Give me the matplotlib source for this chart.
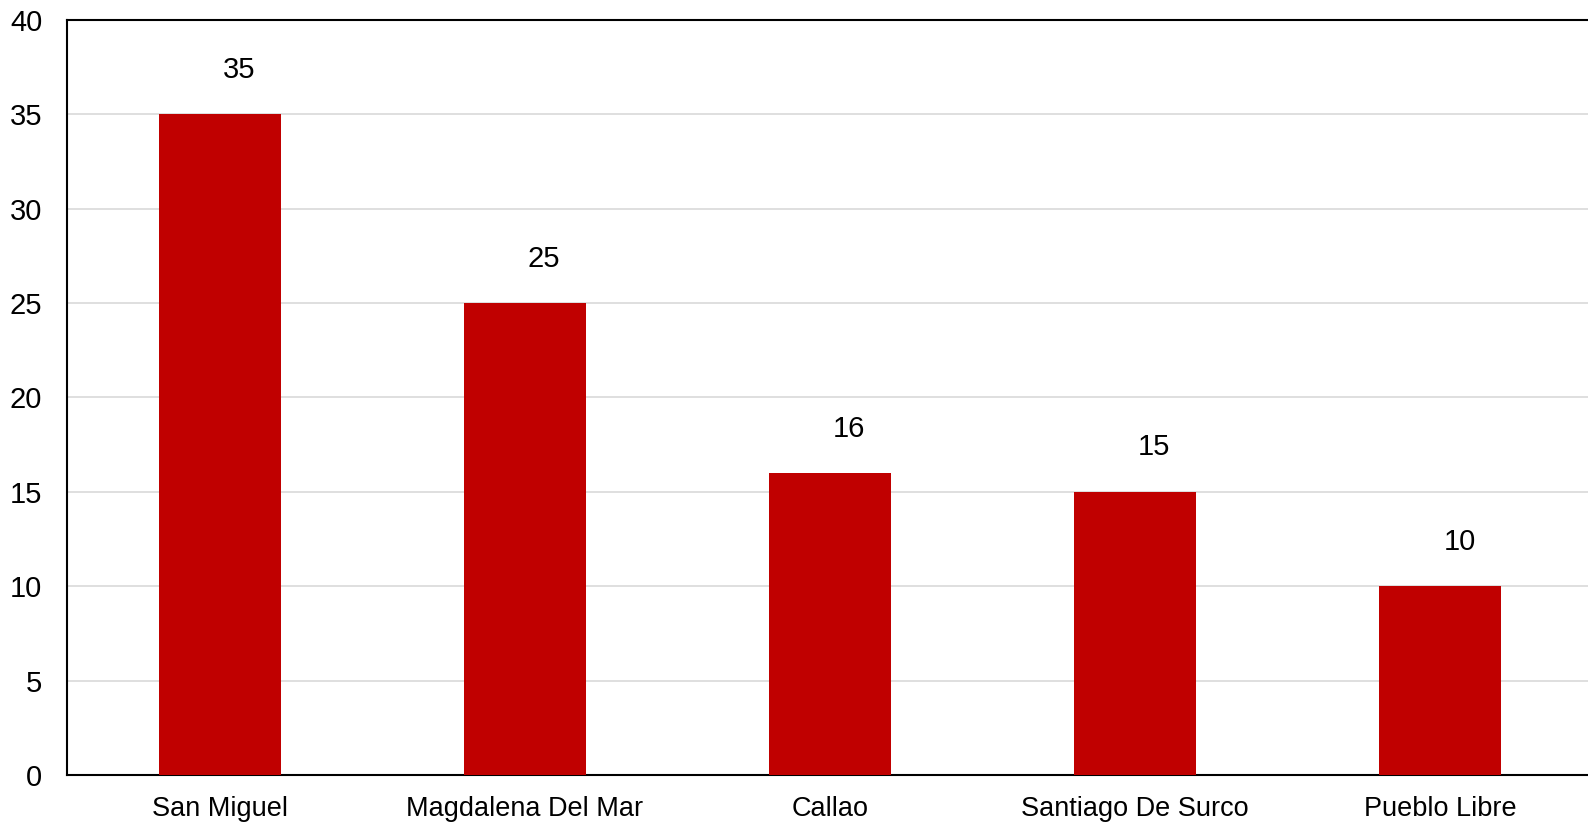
import numpy as np
import matplotlib
matplotlib.use('Agg')
import matplotlib.pyplot as plt

plt.rcParams['font.family'] = ['Liberation Sans', 'DejaVu Sans']

districts = ['San Miguel', 'Magdalena Del Mar', 'Callao', 'Santiago De Surco', 'Pueblo Libre']
counts = [35, 25, 16, 15, 10]
yticks = [0, 5, 10, 15, 20, 25, 30, 35, 40]

fig = plt.figure(figsize=(15.88, 8.22), dpi=100)
ax = fig.add_axes([0.0424, 0.0572, 0.9606, 0.9185])

x = np.arange(len(districts))
ax.bar(x, counts, width=0.4, color='#c00000', zorder=3)
# value labels sit a bit right of the bar centre in the original
for xi, v in zip(x, counts):
    ax.text(xi + 0.063, v + 2.35, str(v), ha='center', va='center', fontsize=21, color='black')

ax.set_xlim(-0.5, len(districts) - 0.5)
ax.set_ylim(0, 40)
ax.set_yticks(yticks)
ax.set_xticks(x)
ax.set_xticklabels(districts, fontsize=19.5)
ax.tick_params(axis='y', labelsize=21, length=0, pad=18)
ax.tick_params(axis='x', length=0, pad=15)
ax.yaxis.grid(True, color='#d9d9d9', linewidth=1.2, zorder=0)
ax.set_axisbelow(True)

for s in ['left', 'top', 'bottom']:
    ax.spines[s].set_color('black')
    ax.spines[s].set_linewidth(1.5)
ax.spines['right'].set_visible(False)

fig.savefig('out.png', dpi=100)
